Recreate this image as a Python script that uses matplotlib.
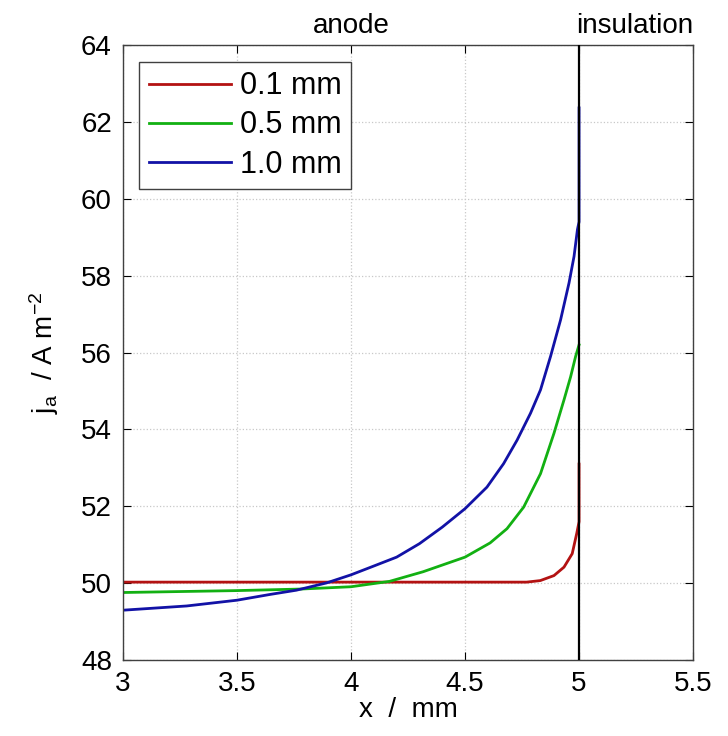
import matplotlib
matplotlib.use("Agg")
import matplotlib.pyplot as plt

plt.rcParams['font.family'] = ['Liberation Sans', 'DejaVu Sans']
plt.rcParams['mathtext.fontset'] = 'custom'
plt.rcParams['mathtext.rm'] = 'Liberation Sans'
plt.rcParams['mathtext.it'] = 'Liberation Sans:italic'
plt.rcParams['mathtext.bf'] = 'Liberation Sans:bold'

# Data (x in mm, j_a in A m^-2)
x_red = [3.0, 3.5, 4.0, 4.5, 4.77, 4.83, 4.89, 4.934, 4.97, 4.99, 5.0, 5.0]
j_red = [50.03, 50.03, 50.03, 50.03, 50.03, 50.07, 50.2, 50.42, 50.77, 51.3, 51.6, 53.1]

x_green = [3.0, 3.5, 3.78, 4.0, 4.169, 4.316, 4.5, 4.61, 4.684, 4.757,
           4.831, 4.89, 4.934, 4.963, 4.985, 5.0]
j_green = [49.76, 49.81, 49.85, 49.91, 50.05, 50.3, 50.68, 51.05, 51.42,
           51.98, 52.85, 53.9, 54.77, 55.37, 55.9, 56.2]

x_blue = [3.0, 3.279, 3.5, 3.645, 3.76, 3.893, 4.0, 4.096, 4.2, 4.3, 4.4, 4.5,
          4.596, 4.669, 4.728, 4.787, 4.831, 4.875, 4.919, 4.956, 4.978, 4.993,
          5.0, 5.0]
j_blue = [49.30, 49.41, 49.56, 49.71, 49.82, 50.01, 50.22, 50.44, 50.68, 51.03,
          51.46, 51.94, 52.5, 53.11, 53.72, 54.42, 55.03, 55.9, 56.85, 57.81,
          58.5, 59.2, 59.4, 62.36]

labels = ['0.1 mm', '0.5 mm', '1.0 mm']
colors = ['#b31212', '#12b012', '#1212a6']

x_ticks = [3, 3.5, 4, 4.5, 5, 5.5]
x_ticklabels = ['3', '3.5', '4', '4.5', '5', '5.5']
y_ticks = [48, 50, 52, 54, 56, 58, 60, 62, 64]

boundary_x = 5.0
region_labels = [('anode', 4.0), ('insulation', 5.245)]

fig = plt.figure(figsize=(7.28, 7.36), dpi=100)
ax = fig.add_axes([0.169, 0.103, 0.783, 0.836])

for xs, ys, lab, c in zip([x_red, x_green, x_blue], [j_red, j_green, j_blue], labels, colors):
    ax.plot(xs, ys, color=c, lw=2.0, label=lab, zorder=2)

ax.axvline(boundary_x, color='black', lw=1.6, zorder=3)

ax.set_xlim(3, 5.5)
ax.set_ylim(48, 64)
ax.set_xticks(x_ticks)
ax.set_xticklabels(x_ticklabels)
ax.set_yticks(y_ticks)
ax.tick_params(direction='in', length=6, width=0.8, top=True, right=True,
               labelsize=20, colors='black', pad=8)
ax.grid(True, linestyle=':', color='#c8c8c8', lw=0.9)
for s in ax.spines.values():
    s.set_color('#404040')
    s.set_linewidth(1.0)

ax.set_xlabel('x  /  mm', fontsize=20, labelpad=0)
ax.set_ylabel(r'$\mathregular{j_a}$  / A m$^{\mathregular{-2}}$', fontsize=20, labelpad=14)

for txt, xv in region_labels:
    ax.text(xv, 1.01, txt, transform=ax.get_xaxis_transform(), ha='center',
            va='bottom', fontsize=20)

leg = ax.legend(loc='upper left', fontsize=22, frameon=True, fancybox=False,
                edgecolor='#404040', framealpha=1, handlelength=2.7,
                borderpad=0.3, labelspacing=0.3, handletextpad=0.3,
                borderaxespad=0.2, bbox_to_anchor=(0.018, 0.982))
leg.get_frame().set_linewidth(1.0)

fig.savefig('out.png', dpi=100)
